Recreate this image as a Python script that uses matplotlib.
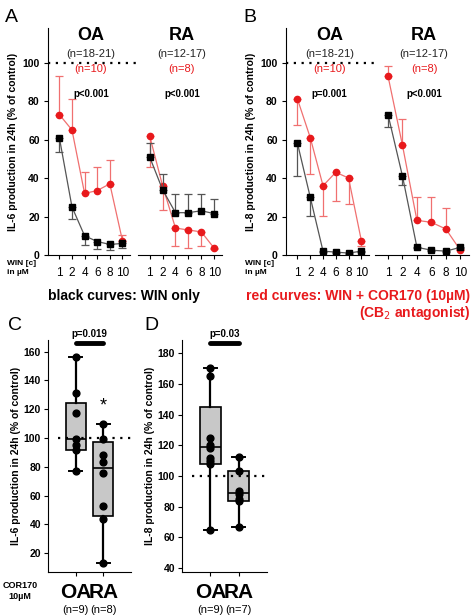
import matplotlib.pyplot as plt
import numpy as np

plt.rcParams['font.family'] = ['Liberation Sans', 'DejaVu Sans']

conc = ["1", "2", "4", "6", "8", "10"]

# panel A, IL-6 (% of control)
il6_oa_win = [61, 25, 10, 7, 5.5, 6]
il6_oa_win_err = [7.5, 6.5, 5, 4, 3, 2.5]
il6_oa_cor = [73, 65, 32, 33.5, 37, 7.5]
il6_oa_cor_err = [20, 16, 11, 12.5, 12.5, 3]
il6_ra_win = [51, 34, 22, 22, 23, 21.5]
il6_ra_win_err = [7, 8, 9.5, 9.5, 8.5, 7.5]
il6_ra_cor = [62, 36, 14, 13, 12, 3.5]
il6_ra_cor_err = [16, 12.5, 9.5, 9.5, 7.5, 0.5]

# panel B, IL-8 (% of control)
il8_oa_win = [58, 30, 2, 1.5, 1, 2]
il8_oa_win_err = [17, 9.5, 0.5, 0.5, 0.5, 0.5]
il8_oa_cor = [81, 61, 36, 43, 40, 7.5]
il8_oa_cor_err = [13.5, 19, 15.5, 15, 13.5, 3]
il8_ra_win = [73, 41, 4, 2.5, 2, 4]
il8_ra_win_err = [6.5, 4.5, 0.5, 0.5, 0.5, 0.5]
il8_ra_cor = [93, 57, 18, 17, 13.5, 2.5]
il8_ra_cor_err = [5, 13.5, 12, 13, 11, 0.5]

# panels C / D: box stats (whislo, q1, med, q3, whishi) and points
c_stats = [(77, 92, 99, 124, 156), (13, 46, 79, 97, 110)]
c_pts = [[156, 131, 117, 99, 95, 92, 77], [110, 99, 88, 83, 76, 53, 44, 13]]
d_stats = [(65, 108, 119, 145, 170), (67, 83.5, 89, 103, 112.5)]
d_pts = [[170, 165, 125, 120, 118, 112, 110, 108, 65], [112.5, 103, 90, 88, 85, 83.5, 67]]
groups = ["OA", "RA"]
group_n = ["(n=9)", "(n=8)"], ["(n=9)", "(n=7)"]

RED = "#e8191c"
LRED = "#f07070"
W, H = 472, 616
fig = plt.figure(figsize=(W / 100, H / 100), dpi=100)


def px_axes(x0, y0, x1, y1):
    return fig.add_axes([x0 / W, 1 - y1 / H, (x1 - x0) / W, (y1 - y0) / H])


def curve_panel(xa, xb, xc, xd, data, ylabel, pvals, letter, lx):
    top, bot = 28, 255
    axl = px_axes(xa, top, xb, bot)
    axr = px_axes(xc, top, xd, bot)
    for k, ax in enumerate([axl, axr]):
        win, winerr, cor, corerr, wdir, cdir = data[k]
        x = np.arange(len(conc))
        we = [winerr, [0] * 6] if wdir == "down" else [[0] * 6, winerr]
        ce = [corerr, [0] * 6] if cdir == "down" else [[0] * 6, corerr]
        ax.errorbar(x, cor, yerr=ce, color=LRED, lw=0.9, capsize=3, capthick=0.9,
                    marker="o", ms=4.5, mfc=RED, mec=RED, zorder=3)
        ax.errorbar(x, win, yerr=we, color="#555555", lw=0.9, capsize=3, capthick=0.9,
                    marker="s", ms=4.5, mfc="black", mec="black", zorder=4)
        ax.set_xlim(-0.9, 5.6)
        ax.set_ylim(0, 118)
        ax.set_xticks(x)
        ax.set_xticklabels(conc, fontsize=8.5)
        for s in ["top", "right"]:
            ax.spines[s].set_visible(False)
        ax.tick_params(length=3, width=0.8, pad=6)
        ax.text(2.5, 82, pvals[k], ha="center", fontsize=7, fontweight="bold")
        ax.text(2.5, 112, groups[k], ha="center", fontsize=13, fontweight="bold", clip_on=False)
        ax.text(2.5, 107, ["(n=18-21)", "(n=12-17)"][k], ha="center", fontsize=8, color="#222222", va="top")
        ax.text(2.5, 99.5, ["(n=10)", "(n=8)"][k], ha="center", fontsize=8, color=RED, va="top")
    axl.axhline(100, xmin=0, xmax=(xd - xa) / (xb - xa), color="black", ls=(0, (1, 2.5)), lw=1.6, clip_on=False)
    axl.set_yticks([0, 20, 40, 60, 80, 100])
    axl.tick_params(axis="y", labelsize=7.5, pad=3)
    for t in axl.get_yticklabels():
        t.set_fontweight("bold")
    axl.set_ylabel(ylabel, fontsize=7.5, fontweight="bold", labelpad=3)
    axr.spines["left"].set_visible(False)
    axr.set_yticks([])
    fig.text(lx / W, 1 - 22 / H, letter, fontsize=14)
    fig.text((xa - 41) / W, 1 - 268 / H, "WIN [c]\nin µM", fontsize=6, fontweight="bold",
             va="center", linespacing=1.4)


curve_panel(48, 130, 138, 222,
            [(il6_oa_win, il6_oa_win_err, il6_oa_cor, il6_oa_cor_err, "down", "up"),
             (il6_ra_win, il6_ra_win_err, il6_ra_cor, il6_ra_cor_err, "up", "down")],
            "IL-6 production in 24h (% of control)", ["p<0.001", "p<0.001"], "A", 5)
curve_panel(286, 369, 375, 469,
            [(il8_oa_win, il8_oa_win_err, il8_oa_cor, il8_oa_cor_err, "down", "down"),
             (il8_ra_win, il8_ra_win_err, il8_ra_cor, il8_ra_cor_err, "down", "up")],
            "IL-8 production in 24h (% of control)", ["p=0.001", "p<0.001"], "B", 243)

fig.text(48 / W, 1 - 296 / H, "black curves: WIN only", fontsize=10, fontweight="bold", va="center")
fig.text(470 / W, 1 - 296 / H, "red curves: WIN + COR170 (10µM)", fontsize=10, fontweight="bold",
         color=RED, va="center", ha="right")
fig.text(470 / W, 1 - 313 / H, "(CB$_2$ antagonist)", fontsize=10, fontweight="bold",
         color=RED, va="center", ha="right")


def box_panel(x0, x1, ylim, ticks, stats, pts, ns, ptext, ylabel, letter, lx, star):
    ax = px_axes(x0, 340, x1, 572)
    bxp = [dict(whislo=s[0], q1=s[1], med=s[2], q3=s[3], whishi=s[4], fliers=[]) for s in stats]
    ax.bxp(bxp, positions=[1, 2], widths=0.72, patch_artist=True,
           boxprops=dict(facecolor="#c8c8c8", edgecolor="black", lw=1.2),
           medianprops=dict(color="black", lw=1.2),
           whiskerprops=dict(color="black", lw=1.6),
           capprops=dict(color="black", lw=1.4), capwidths=0.45)
    for i, p in enumerate(pts):
        ax.scatter([i + 1] * len(p), p, s=24, color="black", zorder=5)
    ax.axhline(100, color="black", ls=(0, (1, 2.5)), lw=1.6, xmin=0.12, xmax=1.0)
    ax.set_xlim(0, 3)
    ax.set_ylim(*ylim)
    ax.set_yticks(ticks)
    ax.tick_params(axis="y", labelsize=7.5, length=3, pad=2)
    for t in ax.get_yticklabels():
        t.set_fontweight("bold")
    ax.set_xticks([1, 2])
    ax.set_xticklabels([])
    ax.tick_params(axis="x", length=3)
    for s in ["top", "right"]:
        ax.spines[s].set_visible(False)
    ax.set_ylabel(ylabel, fontsize=7.5, fontweight="bold", labelpad=2)
    ax.plot([1, 2], [ylim[1] - 2, ylim[1] - 2], color="black", lw=3.5, clip_on=False,
            solid_capstyle="round")
    ax.text(1.5, ylim[1] + 2, ptext, ha="center", fontsize=7, fontweight="bold", clip_on=False)
    if star:
        ax.text(2, star, "*", ha="center", va="center", fontsize=13)
    for i in range(2):
        ax.text(i + 1, -0.09, groups[i], transform=ax.get_xaxis_transform(), ha="center",
                va="center", fontsize=15, fontweight="bold")
        ax.text(i + 1, -0.165, ns[i], transform=ax.get_xaxis_transform(), ha="center",
                va="center", fontsize=8)
    fig.text(lx / W, 1 - 330 / H, letter, fontsize=14)


box_panel(48, 131, (7, 168), [20, 40, 60, 80, 100, 120, 140, 160], c_stats, c_pts, group_n[0],
          "p=0.019", "IL-6 production in 24h (% of control)", "C", 8, 122)
box_panel(182, 267, (37.5, 188.5), [40, 60, 80, 100, 120, 140, 160, 180], d_stats, d_pts, group_n[1],
          "p=0.03", "IL-8 production in 24h (% of control)", "D", 144, None)
fig.text(20 / W, 1 - 591 / H, "COR170\n10µM", fontsize=6.5, fontweight="bold", ha="center",
         va="center", linespacing=1.3)

fig.savefig("out.png", dpi=100)
